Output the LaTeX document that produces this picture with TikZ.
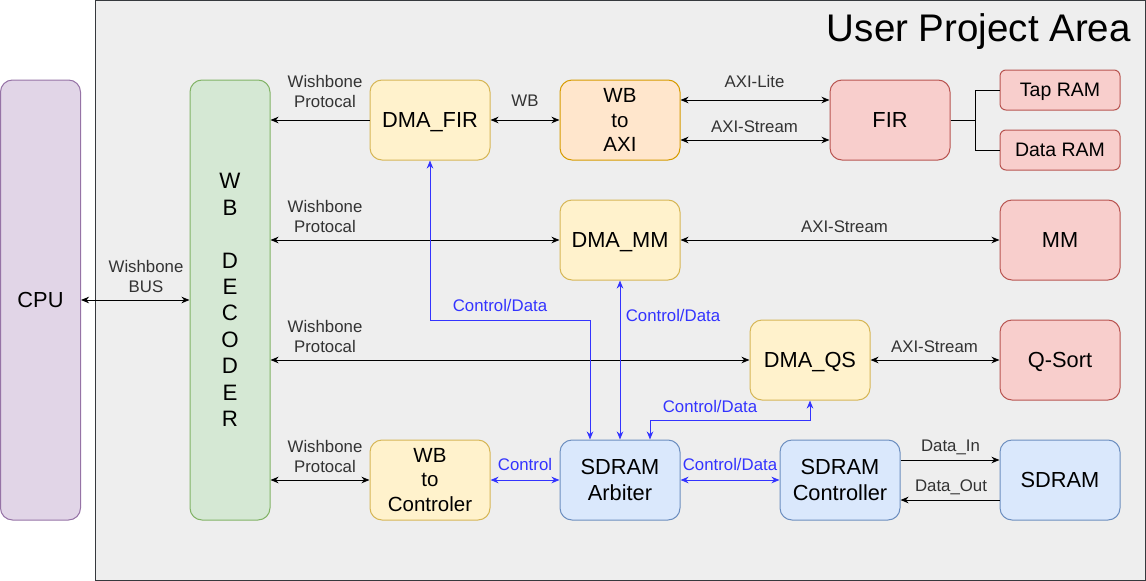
\documentclass[tikz,border=0pt]{standalone}
\usepackage{fontspec}
\setmainfont{Liberation Sans}
\usetikzlibrary{arrows.meta}
\definecolor{areaF}{HTML}{EEEEEE}
\definecolor{areaD}{HTML}{36393D}
\definecolor{cpuF}{HTML}{E1D5E7}
\definecolor{cpuD}{HTML}{9673A6}
\definecolor{decF}{HTML}{D5E8D4}
\definecolor{decD}{HTML}{82B366}
\definecolor{yelF}{HTML}{FFF2CC}
\definecolor{yelD}{HTML}{D6B656}
\definecolor{oraF}{HTML}{FFE6CC}
\definecolor{oraD}{HTML}{D79B00}
\definecolor{redF}{HTML}{F8CECC}
\definecolor{redD}{HTML}{B85450}
\definecolor{bluF}{HTML}{DAE8FC}
\definecolor{bluD}{HTML}{6C8EBF}
\definecolor{ctlB}{HTML}{3333FF}
\definecolor{labC}{HTML}{333333}
\newcommand\myLabFont{\fontsize{16.8}{20}\selectfont}
\newcommand\myNodeFont{\fontsize{21.8}{26.4}\selectfont}
\newcommand\mySmallNodeFont{\fontsize{20.5}{24.3}\selectfont}
\newcommand\myRamFont{\fontsize{19.5}{23.4}\selectfont}
\newcommand\myTitleFont{\fontsize{38.5}{46}\selectfont}
\tikzset{
  box/.style={rectangle, rounded corners=12pt, minimum width=120pt, minimum height=80pt,
    inner sep=0pt, align=center, font=\myNodeFont, text=black, line width=1pt},
  one/.style={text height=15.2pt, text depth=0pt},
  cpuS/.style={box, fill=cpuF, draw=cpuD},
  decS/.style={box, fill=decF, draw=decD},
  yelS/.style={box, fill=yelF, draw=yelD},
  oraS/.style={box, fill=oraF, draw=oraD},
  redS/.style={box, fill=redF, draw=redD},
  bluS/.style={box, fill=bluF, draw=bluD},
  ramS/.style={redS, rounded corners=6pt, minimum height=40pt, font=\myRamFont,
    text height=13.6pt, text depth=0pt},
  tip/.tip={Stealth[length=8pt, width=6.5pt, inset=2.5pt]},
  wire/.style={line width=1pt, draw=black},
  arr/.style={wire, -tip},
  barr/.style={wire, tip-tip},
  bwire/.style={line width=1pt, draw=ctlB, tip-tip},
  lab/.style={font=\myLabFont, text=labC, inner sep=0pt, align=center},
  lab1/.style={lab, text height=11.8pt, text depth=0pt},
  blab/.style={lab1, text=ctlB},
}
\begin{document}
\begin{tikzpicture}[x=1pt, y=-1pt]
\useasboundingbox (0,0) rectangle (1146,581);
% user project area
\node[rectangle, fill=areaF, draw=areaD, line width=1pt, minimum width=1049.5pt,
  minimum height=580pt, inner sep=0pt] (area) at (620.25,290.5) {};
\node[anchor=east, font=\myTitleFont, text=black, inner sep=0pt, text height=27pt,
  text depth=0pt] (title) at (1131,27.5) {User Project Area};
% nodes
\node[cpuS, one, minimum width=80pt, minimum height=440pt] (cpu) at (40.5,300) {CPU};
\node[decS, minimum width=80pt, minimum height=440pt, font=\fontsize{22.3}{26.4}\selectfont]
  (dec) at (230,300) {W\\B\\\mbox{}\\D\\E\\C\\O\\D\\E\\R};
\node[yelS, one] (dmafir) at (430,120) {DMA\_FIR};
\node[oraS, font=\mySmallNodeFont] (wbaxi) at (620,120) {WB\\to\\AXI};
\node[redS, one] (fir) at (890,120) {FIR};
\node[ramS] (tap) at (1060,90) {Tap RAM};
\node[ramS] (dram) at (1060,150) {Data RAM};
\node[yelS, one] (dmamm) at (620,240) {DMA\_MM};
\node[redS, one] (mm) at (1060,240) {MM};
\node[yelS, one] (dmaqs) at (810,360) {DMA\_QS};
\node[redS, one] (qsort) at (1060,360) {Q-Sort};
\node[yelS, font=\mySmallNodeFont] (wbctl) at (430,480) {WB\\to\\Controler};
\node[bluS] (arb) at (620,480) {SDRAM\\Arbiter};
\node[bluS] (ctl) at (840,480) {SDRAM\\Controller};
\node[bluS, one] (sdram) at (1060,480) {SDRAM};
% black connectors
\draw[barr] (cpu) -- (dec);
\draw[arr] (dmafir.west) -- (dec.east |- dmafir.west);
\draw[barr] (dmafir) -- (wbaxi);
\draw[barr] ([yshift=20pt]wbaxi.east) -- ([yshift=20pt]fir.west);
\draw[barr] ([yshift=-20pt]wbaxi.east) -- ([yshift=-20pt]fir.west);
\draw[wire] (fir.east) -- ++(25,0) |- (tap.west);
\draw[wire] (fir.east) -- ++(25,0) |- (dram.west);
\draw[barr] (dec.east |- dmamm.west) -- (dmamm.west);
\draw[barr] (dmamm) -- (mm);
\draw[barr] (dec.east |- dmaqs.west) -- (dmaqs.west);
\draw[barr] (dmaqs) -- (qsort);
\draw[barr] (dec.east |- wbctl.west) -- (wbctl.west);
\draw[arr] ([yshift=20pt]ctl.east) -- ([yshift=20pt]sdram.west);
\draw[arr] ([yshift=-20pt]sdram.west) -- ([yshift=-20pt]ctl.east);
% blue connectors
\draw[bwire] (wbctl) -- (arb);
\draw[bwire] (arb) -- (ctl);
\coordinate (k1) at (430,320);
\draw[bwire] (dmafir.south) -- (k1) -| ([xshift=-30pt]arb.north);
\draw[bwire] (dmamm.south) -- (arb.north);
\coordinate (k3) at (810,420);
\draw[bwire] (dmaqs.south) -- (k3) -| ([xshift=30pt]arb.north);
% labels
\node[lab] (l1) at (325,91.5) {Wishbone\\Protocal};
\node[lab] (l2) at (325,216.7) {Wishbone\\Protocal};
\node[lab] (l3) at (325,336.7) {Wishbone\\Protocal};
\node[lab] (l4) at (325,456.7) {Wishbone\\Protocal};
\node[lab] (lbus) at (146,276.5) {Wishbone\\BUS};
\node[lab1] (lwb) at (525,100.8) {WB};
\node[lab1] (llite) at (754.5,81.3) {AXI-Lite};
\node[lab1] (lstr1) at (754.5,126.2) {AXI-Stream};
\node[lab1] (lstr2) at (844.5,226.5) {AXI-Stream};
\node[lab1] (lstr3) at (934.5,346.3) {AXI-Stream};
\node[lab1] (ldin) at (950.5,446) {Data\_In};
\node[lab1] (ldout) at (951,485.5) {Data\_Out};
\node[blab] (lc1) at (525,465) {Control};
\node[blab] (lc2) at (730,465) {Control/Data};
\node[blab] (lc3) at (500,305.5) {Control/Data};
\node[blab] (lc4) at (673,316) {Control/Data};
\node[blab] (lc5) at (710,406.7) {Control/Data};
\end{tikzpicture}
\end{document}
